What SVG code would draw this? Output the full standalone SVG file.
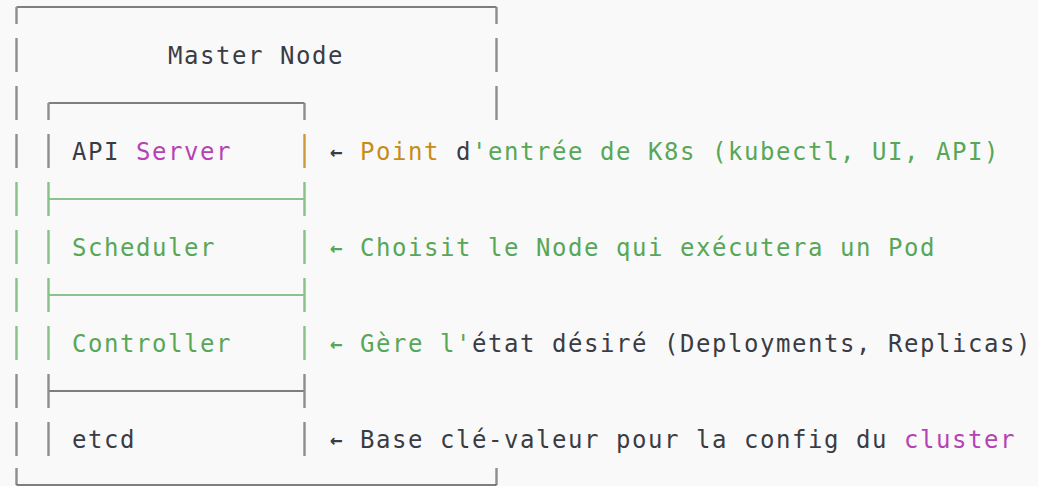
<svg xmlns="http://www.w3.org/2000/svg" width="1038" height="486" viewBox="0 0 1038 486">
  <style>
    text { font-family: "DejaVu Sans Mono", "Liberation Mono", monospace; font-size: 24px; letter-spacing: 1.55px; }
    .arr { font-size: 21px; font-weight: bold; letter-spacing: 0; }
    .dk { fill: #3a3c44; }
    .gr { fill: #57a757; }
    .pu { fill: #b543b5; }
    .or { fill: #c58d16; }
    .v  { stroke-width: 2.4; fill: none; }
    .h  { stroke-width: 1.6; fill: none; }
    .g-v { stroke: #8e8e8e; }
    .g-h { stroke: #555555; }
    .n-v { stroke: #86c286; }
    .n-h { stroke: #68ae68; }
    .o-v { stroke: #cf9a3a; }
  </style>
  <rect width="1038" height="486" fill="#f9f9f9"/>

  <!-- Outer frame: Master Node -->
  <g id="master-node">
    <path class="h g-h" d="M16.5 7 H496.5"/>
    <path class="v g-v" d="M16.5 7 V24 M496.5 7 V24"/>
    <path class="v g-v" d="M16.5 38 V72 M496.5 38 V72"/>
    <path class="v g-v" d="M16.5 86 V120 M496.5 86 V120"/>
    <path class="v g-v" d="M16.5 134 V168"/>
    <path class="v n-v" d="M16.5 182 V216 M16.5 230 V264 M16.5 278 V312 M16.5 326 V360"/>
    <path class="v g-v" d="M16.5 374 V408 M16.5 422 V456"/>
    <path class="v g-v" d="M16.5 468 V485 M496.5 468 V485"/>
    <path class="h g-h" d="M16.5 485 H496.5"/>
    <text class="dk" x="168" y="64">Master Node</text>
  </g>

  <!-- Inner stack: API Server -->
  <g id="api-server">
    <path class="h g-h" d="M48.5 103 H304.5"/>
    <path class="v g-v" d="M48.5 103 V120 M304.5 103 V120"/>
    <path class="v g-v" d="M48.5 134 V168"/>
    <path class="v o-v" d="M304.5 134 V168"/>
    <text x="72" y="160"><tspan class="dk">API</tspan><tspan class="pu" x="136">Server</tspan></text>
  </g>

  <!-- Scheduler -->
  <g id="scheduler">
    <path class="h n-h" d="M48.5 199 H304.5"/>
    <path class="v n-v" d="M48.5 182 V216 M304.5 182 V216"/>
    <path class="v n-v" d="M48.5 230 V264 M304.5 230 V264"/>
    <text class="gr" x="72" y="256">Scheduler</text>
  </g>

  <!-- Controller -->
  <g id="controller">
    <path class="h n-h" d="M48.5 295 H304.5"/>
    <path class="v n-v" d="M48.5 278 V312 M304.5 278 V312"/>
    <path class="v n-v" d="M48.5 326 V360 M304.5 326 V360"/>
    <text class="gr" x="72" y="352">Controller</text>
  </g>

  <!-- etcd -->
  <g id="etcd">
    <path class="h g-h" d="M48.5 391 H304.5"/>
    <path class="v g-v" d="M48.5 374 V408 M304.5 374 V408"/>
    <path class="v g-v" d="M48.5 422 V456 M304.5 422 V456"/>
    <text class="dk" x="72" y="448">etcd</text>
  </g>

  <!-- Side notes pointing back at each component -->
  <g id="connectors">
    <text class="arr dk" x="330" y="159">←</text>
    <text y="160"><tspan class="or" x="360">Point</tspan><tspan class="dk" x="456">d</tspan><tspan class="gr" x="472">'entrée de K8s (kubectl, UI, API)</tspan></text>
    <text class="arr gr" x="330" y="255">←</text>
    <text class="gr" x="360" y="256">Choisit le Node qui exécutera un Pod</text>
    <text class="arr gr" x="330" y="351">←</text>
    <text y="352"><tspan class="gr" x="360">Gère l'</tspan><tspan class="dk" x="472">état désiré (Deployments, Replicas)</tspan></text>
    <text class="arr dk" x="330" y="447">←</text>
    <text y="448"><tspan class="dk" x="360">Base clé-valeur pour la config du</tspan><tspan class="pu" x="904">cluster</tspan></text>
  </g>
</svg>
